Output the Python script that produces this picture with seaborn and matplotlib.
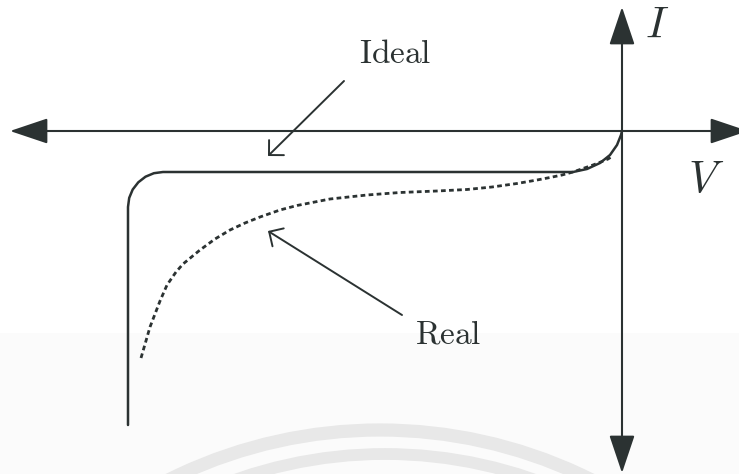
import matplotlib
matplotlib.use("Agg")
import matplotlib.pyplot as plt
from matplotlib.patches import Arc
import numpy as np
import pandas as pd
import seaborn as sns

# Ideal diode characteristic (V, I), reverse breakdown on the left
ideal_v = [-4.94, -4.94, -4.928, -4.893, -4.837, -4.765, -4.681, -4.59,
           -0.49, -0.35, -0.22, -0.12, -0.05, -0.01, 0.0]
ideal_i = [-2.94, -0.76, -0.669, -0.585, -0.513, -0.457, -0.422, -0.41,
           -0.41, -0.38, -0.32, -0.24, -0.14, -0.04, 0.0]

# Real diode characteristic (V, I)
real_v = [-4.81, -4.72, -4.62, -4.55, -4.46, -4.39, -4.22, -4.07, -3.92,
          -3.77, -3.62, -3.42, -3.25, -2.92, -2.55, -2.22, -1.85, -1.55,
          -1.30, -1.05, -0.85, -0.72, -0.60, -0.49, -0.39, -0.29, -0.20,
          -0.14, -0.10]
real_i = [-2.27, -1.96, -1.70, -1.54, -1.41, -1.33, -1.19, -1.08, -0.99,
          -0.92, -0.86, -0.79, -0.745, -0.68, -0.64, -0.615, -0.60, -0.585,
          -0.56, -0.525, -0.49, -0.465, -0.44, -0.41, -0.375, -0.34, -0.305,
          -0.28, -0.255]

labels = ["Ideal", "Real"]
axis_labels = ["I", "V"]

ink = "#2b3232"

sns.set_theme(style="white")
plt.rcParams["mathtext.fontset"] = "cm"

fig = plt.figure(figsize=(7.39, 4.74), dpi=100)
ax = fig.add_axes([0, 0, 1, 1])
ax.set_xlim(-6.22, 1.17)
ax.set_ylim(-3.43, 1.31)
ax.axis("off")

# faint background arcs
ax.axhspan(-3.43, -2.02, color="#fbfbfb", zorder=0, lw=0)
for cx, r, w in [(-2.42, 4.73, 9.5), (-2.37, 4.49, 8.5)]:
    ax.add_patch(Arc((cx, -7.72), 2 * r, 2 * r, theta1=40, theta2=140,
                     color="#e8e8e8", lw=w, zorder=0.5))

# coordinate axes with filled arrowheads
head = "<|-|>,head_length=1.19,head_width=0.4"
ax.annotate("", xy=(1.26, 0.0), xytext=(-6.12, 0.0),
            arrowprops=dict(arrowstyle=head, mutation_scale=20, color=ink,
                            lw=1.5, shrinkA=0, shrinkB=0),
            annotation_clip=False)
ax.annotate("", xy=(0.0, 1.24), xytext=(0.0, -3.42),
            arrowprops=dict(arrowstyle=head, mutation_scale=20, color=ink,
                            lw=1.5, shrinkA=0, shrinkB=0),
            annotation_clip=False)

ideal = pd.DataFrame({"V": ideal_v, "I": ideal_i})
real = pd.DataFrame({"V": real_v, "I": real_i})

sns.lineplot(data=ideal, x="V", y="I", sort=False, estimator=None,
             color=ink, lw=1.8, ax=ax)
sns.lineplot(data=real, x="V", y="I", sort=False, estimator=None,
             color=ink, lw=2.0, ls=(0, (1.7, 1.2)), ax=ax)

# labels with pointer arrows
ax.text(-2.27, 0.78, r"$\mathrm{%s}$" % labels[0], fontsize=24, color=ink,
        ha="center", va="center")
ax.annotate("", xy=(-3.54, -0.25), xytext=(-2.78, 0.50),
            arrowprops=dict(arrowstyle="->,head_length=0.38,head_width=0.38",
                            mutation_scale=20, color=ink, lw=1.4,
                            shrinkA=0, shrinkB=0))
ax.text(-1.74, -2.03, r"$\mathrm{%s}$" % labels[1], fontsize=24, color=ink,
        ha="center", va="center")
ax.annotate("", xy=(-3.54, -1.00), xytext=(-2.20, -1.84),
            arrowprops=dict(arrowstyle="->,head_length=0.38,head_width=0.38",
                            mutation_scale=20, color=ink, lw=1.4,
                            shrinkA=0, shrinkB=0))

ax.text(0.35, 1.06, r"$%s$" % axis_labels[0], fontsize=32, color=ink,
        ha="center", va="center")
ax.text(0.84, -0.48, r"$%s$" % axis_labels[1], fontsize=32, color=ink,
        ha="center", va="center")

fig.savefig("out.png", dpi=100, facecolor="white")
